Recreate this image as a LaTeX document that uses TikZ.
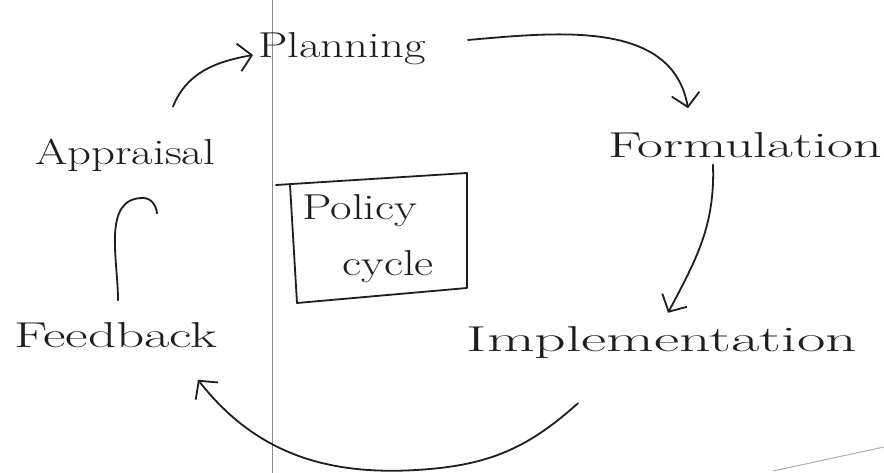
\documentclass[tikz,border=0pt]{standalone}
\usepackage{fontspec}
\setmainfont{Latin Modern Roman}[FakeStretch=1.3]
\usetikzlibrary{arrows.meta}
\definecolor{ink}{HTML}{1E1E1E}
\definecolor{margin}{HTML}{8A8A8A}
\begin{document}
\begin{tikzpicture}[x=1pt,y=1pt,
  lbl/.style={inner sep=0pt, text=ink, font=\fontsize{36}{40}\selectfont},
  wide/.style={xscale=#1, transform shape},
  conn/.style={draw=ink, line width=1.8pt, line cap=round, line join=round},
  tip/.style={-{Straight Barb[length=13pt,width=28pt,line width=1.8pt]}}]
\useasboundingbox (0,0) rectangle (884,473);
\fill[white] (0,0) rectangle (884,473);
% notebook margin line and page edge
\draw[margin, line width=1pt] (272,0) -- (272,473);
\draw[margin!70, line width=1pt] (773,2) -- (884,26);

% labels
\node[lbl] (plan) at (342,424) {Planning};
\node[lbl, wide=1.2] (form) at (745,328) {Formulation};
\node[lbl, wide=1.32] (impl) at (662,130) {Implementation};
\node[lbl, wide=1.18] (feed) at (116,138) {Feedback};
\node[lbl] (appr) at (125,318) {Appraisal};
\node[lbl] (pol)  at (360,262) {Policy};
\node[lbl] (cyc)  at (388,206) {cycle};

% box round "Policy cycle"
\draw[conn] (276,288) -- (467,300) -- (467,185) -- (297,170) -- (290,288);

% connectors
\draw[conn, tip] ([xshift=48pt,yshift=32pt]appr.north)
  to[out=68,in=190] ([xshift=-5pt,yshift=-6pt]plan.west);
\draw[conn, tip] ([xshift=42pt,yshift=9pt]plan.east)
  to[out=5,in=100] ([xshift=-57pt,yshift=24pt]form.north);
\draw[conn, tip] ([xshift=-32pt,yshift=-7pt]form.south)
  to[out=-88,in=62] ([xshift=6pt,yshift=14pt]impl.north);
\draw[conn, tip] ([xshift=-84pt,yshift=-44pt]impl.south)
  to[out=222,in=5] (430,4) to[out=185,in=-52] ([xshift=82pt,yshift=-32pt]feed.south);
\draw[conn] ([xshift=2pt,yshift=22pt]feed.north)
  to[out=90,in=180] (143,275) to[out=0,in=95] ([xshift=32pt,yshift=-42pt]appr.south);
\end{tikzpicture}
\end{document}
